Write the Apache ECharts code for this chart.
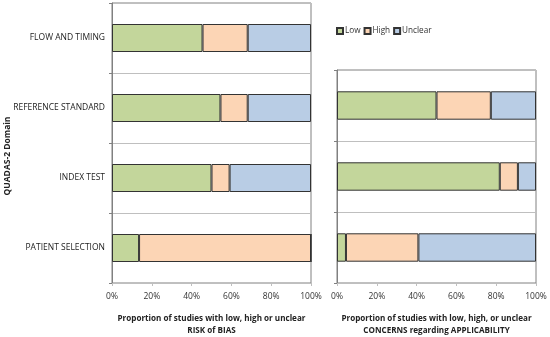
<!DOCTYPE html>
<html>
<head>
<meta charset="utf-8">
<script src="https://cdn.jsdelivr.net/npm/echarts@6/dist/echarts.min.js"></script>
<style>html,body{margin:0;padding:0;background:#fff;}#c{width:550px;height:337px;}</style>
</head>
<body>
<div id="c"></div>
<script>
var biasCategories = ['FLOW AND TIMING', 'REFERENCE STANDARD', 'INDEX TEST', 'PATIENT SELECTION'];
var biasLow = [45.5, 54.5, 50.0, 13.6];
var biasHigh = [22.7, 13.7, 9.1, 86.4];
var biasUnclear = [31.8, 31.8, 40.9, 0];

var applCategories = ['REFERENCE STANDARD', 'INDEX TEST', 'PATIENT SELECTION'];
var applLow = [50.0, 81.8, 4.5];
var applHigh = [27.3, 9.1, 36.4];
var applUnclear = [22.7, 9.1, 59.1];

var xTicks = ['0%', '20%', '40%', '60%', '80%', '100%'];
var seriesNames = ['Low', 'High', 'Unclear'];
var colors = ['#c3d69b', '#fcd5b5', '#b9cde5'];

var font = 'Open Sans';
var chart = echarts.init(document.getElementById('c'));

function mkSeries(name, data, idx, color) {
  return {
    name: name, type: 'bar', stack: 's' + idx, data: data,
    xAxisIndex: idx, yAxisIndex: idx, barWidth: '40%',
    itemStyle: { color: color, borderColor: '#333', borderWidth: 1 },
    emphasis: { disabled: true }, animation: false
  };
}
function xAx(idx, name) {
  return {
    type: 'value', gridIndex: idx, min: 0, max: 100, interval: 20,
    axisLabel: { formatter: function (v) { return xTicks[v / 20]; }, fontSize: 8.5, color: '#333', fontFamily: font, margin: 9 },
    axisLine: { show: true, lineStyle: { color: '#bfbfbf' } },
    axisTick: { show: true, length: 3, lineStyle: { color: '#bfbfbf' } },
    splitLine: { show: false },
    name: name, nameLocation: 'middle', nameGap: 30,
    nameTextStyle: { fontSize: 8.1, fontWeight: 'bold', color: '#222', fontFamily: font, lineHeight: 12 }
  };
}
function yAx(idx, cats, showLabels) {
  return {
    type: 'category', gridIndex: idx, data: cats, inverse: true,
    axisLabel: { show: showLabels, fontSize: 8.5, color: '#222', fontFamily: font, margin: 7 },
    axisLine: { show: true, lineStyle: { color: '#808080' } },
    axisTick: { show: true, length: 3, lineStyle: { color: '#808080' } },
    splitLine: { show: true, lineStyle: { color: '#bfbfbf' } }
  };
}

chart.setOption({
  animation: false,
  legend: {
    data: seriesNames, left: 331, top: 22, icon: 'rect', itemWidth: 6, itemHeight: 6, itemGap: 3,
    textStyle: { fontSize: 8.2, color: '#333', fontFamily: font, padding: [0, 0, 0, -3] },
    selectedMode: false
  },
  grid: [
    { left: 112, right: 239, top: 3, bottom: 54, show: true, borderColor: '#808080', borderWidth: 1, containLabel: false, outerBoundsMode: 'none' },
    { left: 337, right: 14, top: 70, bottom: 54, show: true, borderColor: '#808080', borderWidth: 1, containLabel: false, outerBoundsMode: 'none' }
  ],
  graphic: [{
    type: 'text', x: 3, y: 156, rotation: Math.PI / 2,
    style: { text: 'QUADAS-2 Domain', fontSize: 8.5, fontWeight: 'bold', fill: '#222', fontFamily: font,
      textAlign: 'center', textVerticalAlign: 'top' }
  }],
  xAxis: [
    xAx(0, 'Proportion of studies with low, high or unclear\nRISK of BIAS'),
    xAx(1, 'Proportion of studies with low, high, or unclear\nCONCERNS regarding APPLICABILITY')
  ],
  yAxis: [
    yAx(0, biasCategories, true),
    yAx(1, applCategories, false)
  ],
  series: [
    mkSeries('Low', biasLow, 0, colors[0]),
    mkSeries('High', biasHigh, 0, colors[1]),
    mkSeries('Unclear', biasUnclear, 0, colors[2]),
    mkSeries('Low', applLow, 1, colors[0]),
    mkSeries('High', applHigh, 1, colors[1]),
    mkSeries('Unclear', applUnclear, 1, colors[2])
  ]
});
</script>
</body>
</html>
